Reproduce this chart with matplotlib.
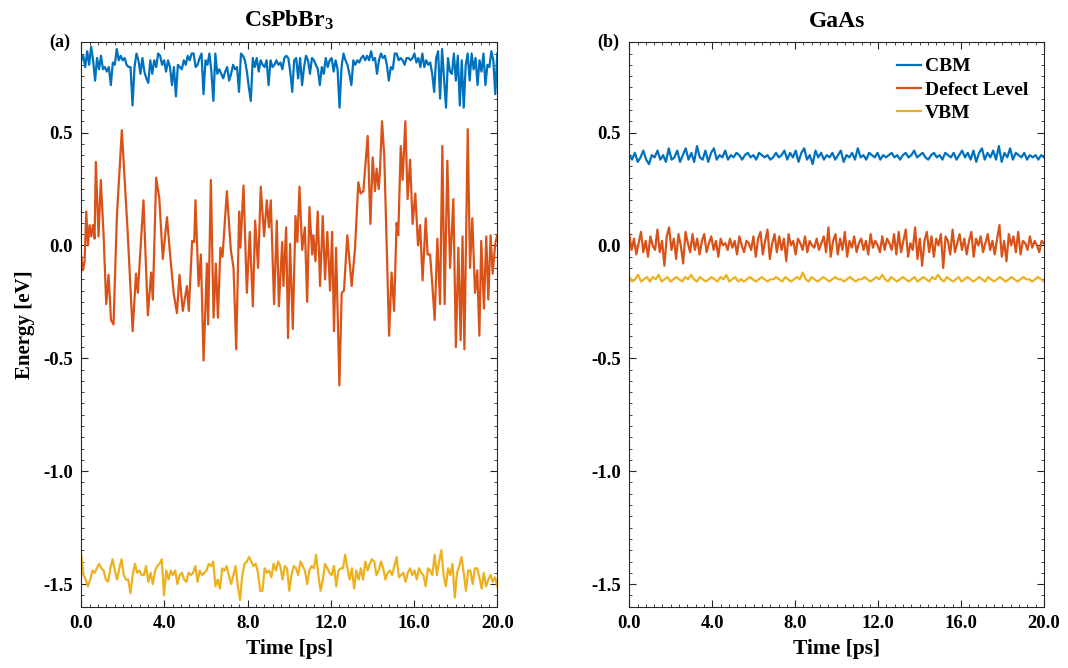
import numpy as np
import matplotlib.pyplot as plt
from matplotlib.ticker import MultipleLocator, FormatStrFormatter

plt.rcParams['font.family'] = ['Liberation Serif', 'DejaVu Serif']
plt.rcParams['font.weight'] = 'bold'
plt.rcParams['axes.unicode_minus'] = False
plt.rcParams['mathtext.fontset'] = 'custom'
plt.rcParams['mathtext.rm'] = 'Liberation Serif:bold'
plt.rcParams['mathtext.default'] = 'rm'

c_cbm = '#0072BD'
c_def = '#D95319'
c_vbm = '#EDB120'

# CsPbBr3 defect level (time in ps, energy in eV)
cs_def_t = [0.00,0.08,0.16,0.24,0.32,0.40,0.48,0.56,0.64,0.70,
	0.83,0.94,1.07,1.20,1.31,1.43,1.55,1.71,1.95,2.23,
	2.47,2.63,2.72,2.99,3.20,3.36,3.44,3.60,3.75,3.92,
	4.12,4.28,4.44,4.60,4.72,4.88,5.08,5.17,5.33,5.43,
	5.49,5.64,5.75,5.88,6.04,6.10,6.23,6.36,6.47,6.57,
	6.69,6.79,7.00,7.19,7.32,7.45,7.59,7.65,7.80,7.96,
	8.10,8.25,8.36,8.50,8.63,8.79,8.92,9.02,9.11,9.27,
	9.40,9.50,9.66,9.72,9.85,9.94,10.04,10.17,10.30,10.39,
	10.49,10.62,10.75,10.86,10.97,11.10,11.16,11.26,11.37,11.48,
	11.61,11.72,11.83,11.96,12.06,12.15,12.25,12.41,12.52,12.63,
	12.79,13.00,13.16,13.32,13.43,13.56,13.77,13.90,14.01,14.12,
	14.20,14.30,14.36,14.46,14.57,14.80,14.92,15.04,15.16,15.24,
	15.36,15.45,15.58,15.69,15.81,15.93,16.06,16.19,16.29,16.41,
	16.56,16.65,16.77,16.89,16.99,17.12,17.25,17.36,17.47,17.60,
	17.73,17.89,18.01,18.13,18.24,18.33,18.42,18.58,18.69,18.80,18.93,
	19.04,19.14,19.23,19.36,19.47,19.57,19.68,19.78,19.90,20.00]
cs_def_e = [-0.05,-0.11,-0.07,0.15,0.00,0.09,0.04,0.09,0.03,0.37,
	0.04,0.29,0.05,-0.26,-0.13,-0.33,-0.35,0.125,0.51,0.06,
	-0.38,-0.125,-0.21,0.20,-0.31,-0.12,-0.24,0.30,0.21,-0.06,
	0.125,-0.05,-0.21,-0.30,-0.13,-0.29,-0.18,-0.29,0.02,0.015,
	0.20,-0.18,-0.04,-0.51,-0.08,-0.35,0.29,-0.32,-0.08,-0.32,
	-0.01,-0.05,0.24,-0.02,-0.10,-0.46,0.15,-0.01,0.265,-0.21,
	0.06,-0.27,0.11,-0.10,0.26,0.04,0.20,0.08,0.20,-0.26,
	0.11,-0.27,0.015,-0.18,0.08,-0.41,0.007,-0.37,0.13,0.015,
	0.26,-0.02,0.08,-0.25,0.17,-0.04,0.045,-0.07,0.15,-0.18,
	0.13,-0.15,0.06,-0.20,0.06,-0.38,-0.01,-0.62,-0.21,-0.20,
	0.045,-0.18,-0.015,0.28,0.23,0.24,0.485,0.095,0.39,0.24,
	0.34,0.25,0.33,0.55,0.39,-0.40,-0.12,-0.29,0.10,0.045,
	0.44,0.29,0.55,0.205,0.38,0.095,0.23,0.00,0.09,-0.155,
	0.12,-0.04,-0.04,-0.19,-0.33,0.03,-0.26,0.44,-0.26,0.375,
	-0.10,0.205,-0.45,-0.01,-0.42,0.04,-0.46,0.515,-0.10,0.12,-0.21,
	-0.11,-0.40,0.02,-0.28,0.04,-0.24,0.045,-0.125,0.007,0.045]

# CsPbBr3 band edges, evenly sampled over 0-20 ps
cs_cbm = [0.82,0.84,0.79,0.86,0.80,0.88,0.82,0.73,0.83,0.78,0.84,0.78,0.79,0.77,0.79,0.71,0.81,0.80,0.87,0.82,
	0.84,0.82,0.83,0.80,0.79,0.79,0.62,0.79,0.85,0.82,0.76,0.83,0.77,0.74,0.72,0.82,0.76,0.82,0.79,0.85,
	0.84,0.80,0.82,0.77,0.82,0.79,0.71,0.79,0.66,0.80,0.79,0.78,0.82,0.80,0.84,0.82,0.85,0.85,0.79,0.80,
	0.83,0.85,0.67,0.82,0.80,0.85,0.77,0.64,0.85,0.76,0.78,0.76,0.74,0.77,0.79,0.73,0.76,0.80,0.78,0.79,
	0.68,0.85,0.84,0.82,0.77,0.70,0.64,0.83,0.79,0.83,0.77,0.82,0.80,0.79,0.82,0.71,0.82,0.79,0.80,0.82,
	0.80,0.81,0.78,0.83,0.84,
	0.83,0.77,0.68,0.82,0.83,0.74,0.83,0.71,0.79,0.84,0.82,0.76,0.83,0.82,0.80,0.78,0.71,0.79,0.76,0.83,
	0.79,0.82,0.83,0.77,0.82,0.78,0.61,0.79,0.85,0.82,0.80,0.76,0.71,0.82,0.80,0.82,0.81,0.83,0.84,0.82,
	0.84,0.82,0.86,0.82,0.83,0.76,0.82,0.85,0.83,0.84,0.80,0.73,0.79,0.78,0.85,0.85,0.82,0.83,0.82,0.80,
	0.83,0.83,0.82,0.83,0.85,0.81,0.83,0.79,0.85,0.79,0.82,0.80,0.81,0.76,0.68,0.83,0.86,0.65,0.87,0.74,
	0.61,0.83,0.77,0.76,0.85,0.73,0.84,0.62,0.82,0.61,0.80,0.85,0.73,0.85,0.78,0.83,0.71,0.82,0.77,0.85,
	0.71,0.80,0.79,0.86,0.82,0.67,0.85]
cs_vbm = [-1.37,-1.46,-1.48,-1.51,-1.48,-1.44,-1.45,-1.43,-1.41,-1.43,-1.44,-1.48,-1.49,-1.43,-1.39,-1.44,-1.48,-1.43,-1.39,-1.46,
	-1.48,-1.48,-1.54,-1.46,-1.41,-1.45,-1.44,-1.46,-1.46,-1.42,-1.49,-1.45,-1.50,-1.44,-1.42,-1.41,-1.39,-1.55,-1.44,-1.48,
	-1.44,-1.46,-1.44,-1.50,-1.46,-1.45,-1.48,-1.49,-1.45,-1.46,-1.45,-1.42,-1.49,-1.44,-1.46,-1.45,-1.44,-1.41,-1.42,-1.40,
	-1.51,-1.48,-1.52,-1.43,-1.44,-1.42,-1.46,-1.50,-1.46,-1.42,-1.51,-1.57,-1.46,-1.41,-1.40,-1.38,-1.40,-1.42,-1.41,-1.45,
	-1.53,-1.53,-1.43,-1.45,-1.44,-1.47,-1.41,-1.44,-1.40,-1.42,-1.48,-1.42,-1.43,-1.53,-1.46,-1.42,-1.43,-1.46,-1.40,-1.42,
	-1.44,-1.50,-1.44,-1.42,-1.43,-1.37,-1.46,-1.53,-1.48,-1.41,-1.43,-1.45,-1.46,-1.42,-1.51,-1.44,-1.43,-1.43,-1.37,-1.43,
	-1.48,-1.43,-1.52,-1.44,-1.48,-1.43,-1.48,-1.40,-1.44,-1.41,-1.39,-1.40,-1.46,-1.44,-1.40,-1.43,-1.48,-1.45,-1.44,-1.46,
	-1.42,-1.38,-1.47,-1.46,-1.45,-1.49,-1.45,-1.43,-1.46,-1.44,-1.48,-1.43,-1.45,-1.46,-1.51,-1.43,-1.44,-1.46,-1.37,-1.46,
	-1.40,-1.35,-1.46,-1.51,-1.43,-1.46,-1.41,-1.56,-1.45,-1.42,-1.38,-1.45,-1.53,-1.44,-1.44,-1.50,-1.43,-1.43,-1.47,-1.52,
	-1.45,-1.51,-1.48,-1.46,-1.49,-1.47,-1.51]

# GaAs, evenly sampled over 0-20 ps
ga_cbm = [0.40,0.38,0.41,0.37,0.39,0.42,0.38,0.36,0.40,0.39,0.42,0.38,0.40,0.37,0.43,0.38,0.39,0.42,0.37,0.40,
	0.43,0.38,0.41,0.37,0.44,0.39,0.38,0.42,0.37,0.41,0.43,0.38,0.40,0.39,0.42,0.38,0.40,0.39,0.41,0.40,
	0.38,0.40,0.41,0.39,0.40,0.38,0.41,0.40,0.39,0.40,0.38,0.39,0.41,0.39,0.40,0.42,0.38,0.41,0.39,0.42,
	0.37,0.41,0.43,0.38,0.40,0.36,0.42,0.39,0.41,0.38,0.40,0.39,0.41,0.38,0.40,0.42,0.37,0.40,0.39,0.41,
	0.38,0.43,0.39,0.40,0.38,0.41,0.40,0.39,0.41,0.38,0.40,0.39,0.40,0.41,0.39,0.40,0.38,0.40,0.41,0.39,
	0.40,0.42,0.39,0.40,0.41,0.39,0.38,0.40,0.41,0.39,0.40,0.38,0.41,0.40,0.39,0.41,0.38,0.40,0.42,0.39,
	0.41,0.38,0.42,0.37,0.41,0.43,0.38,0.41,0.39,0.42,0.38,0.44,0.37,0.41,0.39,0.43,0.38,0.41,0.40,0.39,
	0.41,0.38,0.40,0.39,0.40,0.38,0.40,0.39]
ga_def = [0.05,-0.02,0.03,-0.04,0.01,0.06,-0.03,0.02,-0.05,0.04,0.00,-0.02,0.07,-0.03,0.02,-0.09,0.04,0.08,-0.02,0.03,
	-0.06,0.05,0.00,-0.08,0.06,0.01,-0.03,0.05,-0.02,0.03,-0.04,0.02,0.05,-0.03,0.01,0.04,-0.02,0.02,-0.05,0.03,
	0.00,0.01,-0.02,0.03,-0.01,0.02,-0.04,0.04,0.00,-0.03,0.02,0.01,-0.02,0.04,-0.05,0.03,0.06,-0.04,0.02,0.07,
	-0.06,0.01,0.05,-0.03,0.04,-0.02,0.03,-0.07,0.05,0.00,0.02,-0.04,0.03,0.01,-0.02,0.04,-0.03,0.02,0.00,-0.01,
	0.03,-0.02,0.01,0.04,-0.03,0.08,-0.05,0.02,0.05,-0.04,0.03,-0.02,0.06,-0.05,0.02,-0.01,0.04,-0.03,0.01,0.03,
	-0.02,0.02,-0.04,0.05,-0.01,0.02,0.00,-0.03,0.04,-0.02,0.03,0.01,-0.02,0.05,-0.04,0.06,-0.03,0.02,0.07,-0.05,
	0.01,-0.02,0.08,-0.06,0.03,-0.09,0.02,0.06,-0.03,0.04,-0.05,0.03,0.00,0.05,-0.10,0.04,0.02,-0.04,0.07,-0.03,
	0.01,0.05,-0.02,0.03,-0.04,0.02,0.06,-0.05,0.03,0.00,0.04,-0.03,0.01,0.05,-0.02,0.02,-0.04,0.03,0.09,-0.05,
	0.02,-0.07,0.05,0.00,0.04,-0.03,0.06,-0.04,0.02,0.01,-0.02,0.04,-0.01,0.02,0.00,-0.03,0.02,0.01]
ga_vbm = [-0.14,-0.16,-0.15,-0.13,-0.16,-0.15,-0.14,-0.16,-0.14,-0.15,-0.13,-0.16,-0.15,-0.14,-0.16,-0.15,-0.14,-0.15,-0.16,-0.14,
	-0.15,-0.13,-0.15,-0.16,-0.14,-0.15,-0.16,-0.15,-0.14,-0.15,-0.16,-0.14,-0.15,-0.13,-0.16,-0.15,-0.14,-0.16,-0.15,-0.16,
	-0.15,-0.14,-0.15,-0.16,-0.15,-0.14,-0.15,-0.16,-0.15,-0.15,-0.14,-0.15,-0.16,-0.14,-0.15,-0.16,-0.15,-0.14,-0.15,-0.12,
	-0.15,-0.16,-0.14,-0.15,-0.16,-0.15,-0.14,-0.15,-0.16,-0.15,-0.14,-0.15,-0.15,-0.16,-0.15,-0.14,-0.15,-0.16,-0.15,-0.15,
	-0.14,-0.15,-0.16,-0.15,-0.14,-0.15,-0.13,-0.15,-0.16,-0.14,-0.15,-0.16,-0.15,-0.14,-0.15,-0.16,-0.15,-0.14,-0.16,-0.15,
	-0.14,-0.15,-0.16,-0.14,-0.15,-0.13,-0.15,-0.16,-0.14,-0.15,-0.16,-0.15,-0.14,-0.16,-0.15,-0.14,-0.15,-0.16,-0.15,-0.14,
	-0.15,-0.16,-0.14,-0.15,-0.16,-0.15,-0.14,-0.15,-0.16,-0.15,-0.14,-0.15,-0.16,-0.15,-0.14,-0.15,-0.15,-0.16,-0.15,-0.14,
	-0.15,-0.16]

def grid(vals):
	return np.linspace(0, 20, len(vals))

fig = plt.figure(figsize = (10.68, 6.68), dpi = 100)
ax1 = fig.add_axes([0.0761, 0.0918, 0.3895, 0.845])
ax2 = fig.add_axes([0.5892, 0.0918, 0.3883, 0.845])

ax1.plot(grid(cs_cbm), cs_cbm, color = c_cbm, lw = 1.6)
ax1.plot(cs_def_t, cs_def_e, color = c_def, lw = 1.6)
ax1.plot(grid(cs_vbm), cs_vbm, color = c_vbm, lw = 1.6)

ax2.plot(grid(ga_cbm), ga_cbm, color = c_cbm, lw = 1.6, label = 'CBM')
ax2.plot(grid(ga_def), ga_def, color = c_def, lw = 1.6, label = 'Defect Level')
ax2.plot(grid(ga_vbm), ga_vbm, color = c_vbm, lw = 1.6, label = 'VBM')

for ax, title, tag in [(ax1, 'CsPbBr$_3$', '(a)'), (ax2, 'GaAs', '(b)')]:
	ax.set_xlim(0, 20)
	ax.set_ylim(-1.6, 0.9)
	ax.xaxis.set_major_locator(MultipleLocator(4))
	ax.xaxis.set_minor_locator(MultipleLocator(0.4))
	ax.yaxis.set_major_locator(MultipleLocator(0.5))
	ax.yaxis.set_minor_locator(MultipleLocator(0.05))
	ax.xaxis.set_major_formatter(FormatStrFormatter('%.1f'))
	ax.yaxis.set_major_formatter(FormatStrFormatter('%.1f'))
	ax.tick_params(which = 'both', direction = 'in', top = True, right = True, color = '#262626', labelsize = 13.5, pad = 6)
	ax.tick_params(which = 'major', length = 5, width = 0.8)
	ax.tick_params(which = 'minor', length = 2.5, width = 0.6)
	for s in ax.spines.values():
		s.set_color('#262626')
		s.set_linewidth(0.8)
	ax.set_title(title, fontsize = 17, fontweight = 'bold', pad = 11)
	ax.set_xlabel('Time [ps]', fontsize = 15.5, fontweight = 'bold', labelpad = 5)
	ax.text(-0.077, 1.0, tag, transform = ax.transAxes, fontsize = 13, fontweight = 'bold', ha = 'left', va = 'center')

ax1.set_ylabel('Energy [eV]', fontsize = 15, fontweight = 'bold', labelpad = 6)

ax2.legend(loc = 'upper right', frameon = False, fontsize = 14, handlelength = 1.25, handletextpad = 0.2,
	labelspacing = 0.3, borderaxespad = 0.4)

fig.savefig('out.png', dpi = 100)
